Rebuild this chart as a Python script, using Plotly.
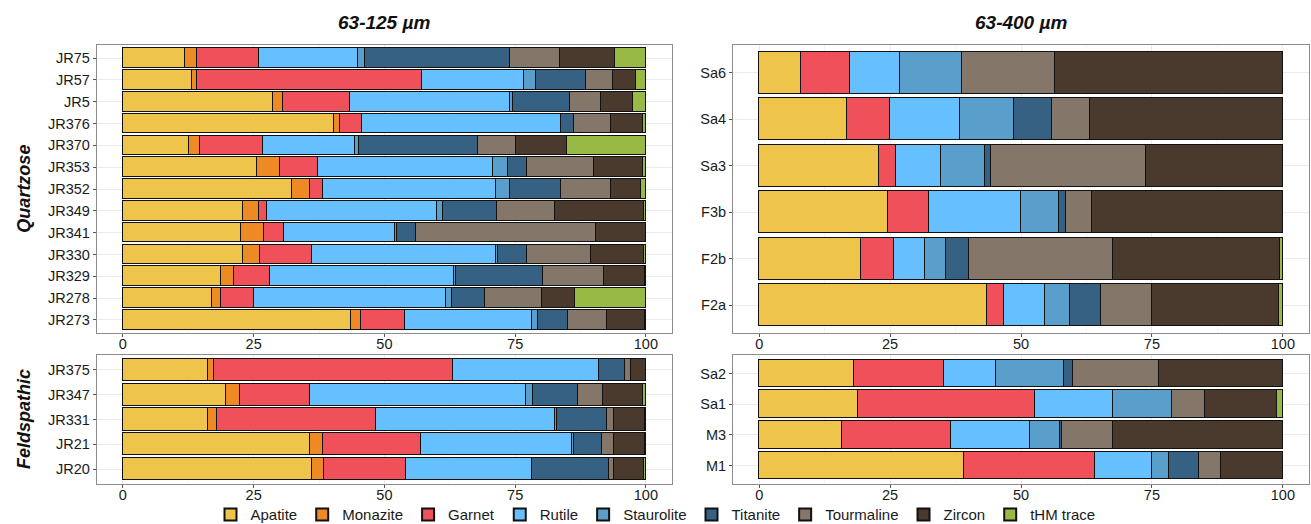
import plotly.graph_objects as go

# Heavy-mineral assemblages (% of transparent heavy minerals)
minerals = ["Apatite", "Monazite", "Garnet", "Rutile", "Staurolite",
            "Titanite", "Tourmaline", "Zircon", "tHM trace"]
colors = ["#EFC44B", "#EE8A24", "#F05059", "#66BFFF", "#5A9ECC",
          "#366182", "#85766A", "#4A3A2E", "#98BA44"]

# 63-125 µm, quartzose samples (top to bottom)
q_samples = ["JR75", "JR57", "JR5", "JR376", "JR370", "JR353", "JR352",
             "JR349", "JR341", "JR330", "JR329", "JR278", "JR273"]
q_apatite    = [11.9, 13.2, 28.7, 40.4, 12.5, 25.5, 32.3, 23.0, 22.6, 23.0, 18.8, 17.0, 43.6]
q_monazite   = [2.2, 0.9, 1.9, 1.1, 2.1, 4.5, 3.4, 3.0, 4.3, 3.2, 2.4, 1.7, 1.9]
q_garnet     = [11.8, 43.1, 12.8, 4.1, 12.1, 7.2, 2.5, 1.6, 3.8, 10.0, 6.8, 6.3, 8.3]
q_rutile     = [19.0, 19.4, 30.6, 38.1, 17.7, 33.5, 33.1, 32.4, 21.2, 35.1, 35.2, 36.7, 24.4]
q_staurolite = [1.4, 2.3, 0.5, 0.0, 0.7, 2.9, 2.7, 1.1, 0.4, 0.4, 0.5, 1.1, 1.2]
q_titanite   = [27.6, 9.6, 11.0, 2.5, 22.7, 3.6, 9.7, 10.4, 3.7, 5.5, 16.6, 6.3, 5.6]
q_tourmaline = [9.6, 5.1, 5.8, 7.1, 7.4, 12.9, 9.5, 11.1, 34.5, 12.2, 11.7, 10.9, 7.6]
q_zircon     = [10.5, 4.5, 6.1, 6.1, 9.6, 9.3, 5.9, 17.0, 9.4, 10.2, 7.8, 6.4, 7.2]
q_trace      = [6.0, 1.9, 2.6, 0.6, 15.2, 0.6, 0.9, 0.4, 0.1, 0.4, 0.2, 13.6, 0.2]

# 63-125 µm, feldspathic samples
f_samples = ["JR375", "JR347", "JR331", "JR21", "JR20"]
f_apatite    = [16.2, 19.6, 16.2, 35.7, 36.2]
f_monazite   = [1.2, 2.7, 1.7, 2.5, 2.2]
f_garnet     = [45.7, 13.5, 30.5, 18.8, 15.7]
f_rutile     = [27.9, 41.2, 34.2, 28.8, 24.1]
f_staurolite = [0.0, 1.3, 0.3, 0.4, 0.0]
f_titanite   = [5.0, 8.6, 9.6, 5.3, 14.7]
f_tourmaline = [1.2, 4.9, 1.4, 2.4, 0.9]
f_zircon     = [2.7, 7.6, 5.8, 5.8, 5.7]
f_trace      = [0.1, 0.6, 0.3, 0.3, 0.5]

# 63-400 µm, quartzose samples
wq_samples = ["Sa6", "Sa4", "Sa3", "F3b", "F2b", "F2a"]
wq_apatite    = [7.9, 16.7, 22.8, 24.6, 19.5, 43.5]
wq_monazite   = [0.0, 0.0, 0.0, 0.0, 0.0, 0.0]
wq_garnet     = [9.5, 8.3, 3.3, 7.8, 6.3, 3.3]
wq_rutile     = [9.5, 13.4, 8.7, 17.5, 5.9, 7.8]
wq_staurolite = [11.8, 10.3, 8.3, 7.4, 3.9, 4.8]
wq_titanite   = [0.0, 7.2, 1.2, 1.2, 4.4, 5.9]
wq_tourmaline = [17.7, 7.3, 29.6, 5.1, 27.6, 9.7]
wq_zircon     = [43.6, 36.8, 26.1, 36.4, 31.8, 24.3]
wq_trace      = [0.0, 0.0, 0.0, 0.0, 0.6, 0.7]

# 63-400 µm, feldspathic samples
wf_samples = ["Sa2", "Sa1", "M3", "M1"]
wf_apatite    = [18.1, 18.8, 15.9, 39.2]
wf_monazite   = [0.0, 0.0, 0.0, 0.0]
wf_garnet     = [17.2, 33.8, 20.8, 25.0]
wf_rutile     = [9.9, 15.0, 15.0, 10.9]
wf_staurolite = [13.0, 11.2, 5.8, 3.2]
wf_titanite   = [1.7, 0.0, 0.4, 5.6]
wf_tourmaline = [16.4, 6.3, 9.7, 4.3]
wf_zircon     = [23.7, 13.8, 32.4, 11.8]
wf_trace      = [0.0, 1.1, 0.0, 0.0]

panels = [
    ("x", "y", q_samples, [q_apatite, q_monazite, q_garnet, q_rutile, q_staurolite,
                           q_titanite, q_tourmaline, q_zircon, q_trace]),
    ("x2", "y2", wq_samples, [wq_apatite, wq_monazite, wq_garnet, wq_rutile, wq_staurolite,
                              wq_titanite, wq_tourmaline, wq_zircon, wq_trace]),
    ("x3", "y3", f_samples, [f_apatite, f_monazite, f_garnet, f_rutile, f_staurolite,
                             f_titanite, f_tourmaline, f_zircon, f_trace]),
    ("x4", "y4", wf_samples, [wf_apatite, wf_monazite, wf_garnet, wf_rutile, wf_staurolite,
                              wf_titanite, wf_tourmaline, wf_zircon, wf_trace]),
]

FONT = "Liberation Sans, Arial, Helvetica, sans-serif"

fig = go.Figure()
for p, (xa, ya, samples, series) in enumerate(panels):
    for name, color, vals in zip(minerals, colors, series):
        fig.add_trace(go.Bar(
            x=[v if v > 0 else None for v in vals],
            y=samples,
            orientation="h",
            name=name,
            legendgroup=name,
            showlegend=(p == 0),
            marker=dict(color=color, line=dict(color="#111111", width=1)),
            width=0.9,
            xaxis=xa, yaxis=ya,
        ))

left_dom = [0.0738, 0.5126]
right_dom = [0.5591, 0.9985]
top_dom = [0.3645, 0.914]
bot_dom = [0.0763, 0.3225]

def xaxis_style(domain, anchor):
    return dict(
        domain=domain, anchor=anchor, range=[-5, 105],
        tickvals=[0, 25, 50, 75, 100], ticktext=["0", "25", "50", "75", "100"],
        showgrid=True, gridcolor="#EBEBEB", gridwidth=1,
        minor=dict(tickvals=[12.5, 37.5, 62.5, 87.5], showgrid=True,
                   gridcolor="#F5F5F5", gridwidth=1),
        showline=True, mirror=True, linecolor="#8C8C8C", linewidth=1,
        ticks="outside", ticklen=3, tickcolor="#555555",
        ticklabelstandoff=-5,
        tickfont=dict(family=FONT, size=14.5, color="#1A1A1A"),
        zeroline=False, fixedrange=True, automargin=False,
    )

def yaxis_style(domain, anchor, samples):
    n = len(samples)
    return dict(
        domain=domain, anchor=anchor,
        type="category", categoryorder="array", categoryarray=samples[::-1],
        range=[-0.6, n - 0.4],
        showgrid=True, gridcolor="#EBEBEB",
        showline=True, mirror=True, linecolor="#8C8C8C", linewidth=1,
        ticks="outside", ticklen=3, tickcolor="#555555",
        tickfont=dict(family=FONT, size=14.5, color="#1A1A1A"),
        zeroline=False, fixedrange=True, automargin=False,
    )

fig.update_layout(
    width=1311, height=524,
    margin=dict(l=0, r=0, t=0, b=0, autoexpand=False),
    paper_bgcolor="white", plot_bgcolor="white",
    barmode="stack", bargap=0,
    font=dict(family=FONT, color="#1A1A1A"),
    xaxis=xaxis_style(left_dom, "y"),
    yaxis=yaxis_style(top_dom, "x", q_samples),
    xaxis2=xaxis_style(right_dom, "y2"),
    yaxis2=yaxis_style(top_dom, "x2", wq_samples),
    xaxis3=xaxis_style(left_dom, "y3"),
    yaxis3=yaxis_style(bot_dom, "x3", f_samples),
    xaxis4=xaxis_style(right_dom, "y4"),
    yaxis4=yaxis_style(bot_dom, "x4", wf_samples),
    legend=dict(
        orientation="h", x=0.5, xanchor="center", y=-0.014, yanchor="bottom",
        font=dict(family=FONT, size=15, color="#1A1A1A"),
        traceorder="normal", itemsizing="constant", itemwidth=30,
        bgcolor="rgba(0,0,0,0)", tracegroupgap=0,
    ),
    annotations=[
        dict(text="<b><i>63-125 µm</i></b>", x=sum(left_dom) / 2, y=0.958,
             xref="paper", yref="paper", showarrow=False,
             xanchor="center", yanchor="middle",
             font=dict(family=FONT, size=19, color="#111111")),
        dict(text="<b><i>63-400 µm</i></b>", x=sum(right_dom) / 2, y=0.958,
             xref="paper", yref="paper", showarrow=False,
             xanchor="center", yanchor="middle",
             font=dict(family=FONT, size=19, color="#111111")),
        dict(text="<b><i>Quartzose</i></b>", x=0.018, y=sum(top_dom) / 2,
             xref="paper", yref="paper", showarrow=False, textangle=-90,
             xanchor="center", yanchor="middle",
             font=dict(family=FONT, size=18, color="#111111")),
        dict(text="<b><i>Feldspathic</i></b>", x=0.018, y=sum(bot_dom) / 2,
             xref="paper", yref="paper", showarrow=False, textangle=-90,
             xanchor="center", yanchor="middle",
             font=dict(family=FONT, size=18, color="#111111")),
    ],
)

fig.write_html("out.html")
